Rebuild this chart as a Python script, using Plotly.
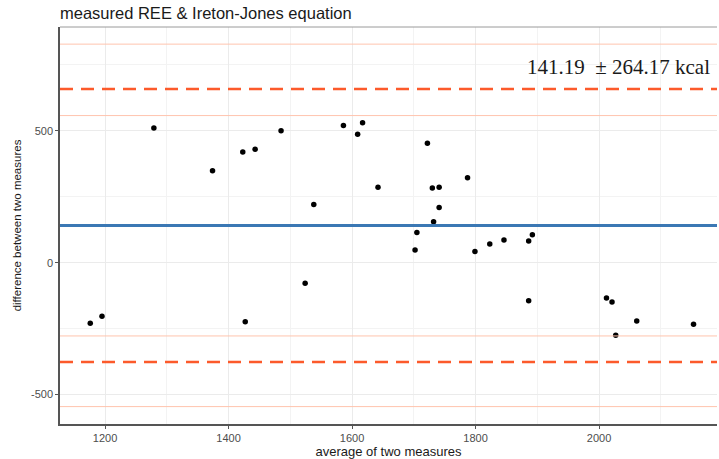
import plotly.graph_objects as go

avg_measures = [1279, 1374, 1423, 1443, 1485, 1538, 1586, 1609, 1617, 1642, 1722, 1730,
                1741, 1787, 1741, 1732, 1705, 1702, 1799, 1823, 1846, 1886, 1892, 1886,
                2012, 2021, 2027, 2061, 2153, 1176, 1195, 1427, 1524]
diff_measures = [511, 349, 420, 430, 500, 221, 520, 487, 531, 286, 453, 283,
                 286, 322, 209, 155, 114, 48, 42, 71, 86, 82, 106, -144,
                 -134, -149, -275, -221, -234, -230, -203, -224, -78]

mean_diff = 141.19
sd_diff = 264.17
loa_upper = mean_diff + 1.96 * sd_diff
loa_lower = mean_diff - 1.96 * sd_diff
ci_lines = [829, 558, -278, -546]

x_ticks = [1200, 1400, 1600, 1800, 2000]
y_ticks = [-500, 0, 500]

fig = go.Figure()

fig.add_trace(go.Scatter(x=avg_measures, y=diff_measures, mode="markers",
                         marker=dict(color="black", size=5.5), showlegend=False))

for v in ci_lines:
    fig.add_hline(y=v, line=dict(color="#ffc4ae", width=1))
for v in [loa_upper, loa_lower]:
    fig.add_hline(y=v, line=dict(color="#fc5a2b", width=2.5, dash="13px,8px"))
fig.add_hline(y=mean_diff, line=dict(color="#3b78b4", width=3))

fig.add_shape(type="line", xref="paper", yref="paper", x0=0, x1=1, y0=1, y1=1,
              line=dict(color="#9a9a9a", width=1))

fig.add_annotation(x=2032, y=742, text=f"{mean_diff:.2f}  \u00b1 {sd_diff:.2f} kcal",
                   showarrow=False, xanchor="center", yanchor="middle",
                   font=dict(family="Liberation Serif", size=21, color="#1a1a1a"))

fig.update_layout(
    width=719, height=459,
    margin=dict(l=60, r=2, t=27, b=35),
    paper_bgcolor="white", plot_bgcolor="white",
    font=dict(family="Liberation Sans", color="#333333"),
    title=dict(text="measured REE & Ireton-Jones equation", x=60/719, xanchor="left",
               y=1 - 13/459, yanchor="middle",
               font=dict(size=16.5, color="#1a1a1a")),
    xaxis=dict(range=[1127, 2191], tickvals=x_ticks, ticktext=[str(t) for t in x_ticks],
               showgrid=True, gridcolor="#ebebeb", gridwidth=1,
               minor=dict(dtick=100, tick0=1100, showgrid=True, gridcolor="#f3f3f3", gridwidth=0.6),
               showline=True, linecolor="#555555", linewidth=1.5,
               ticks="outside", ticklen=3, tickcolor="#555555",
               tickfont=dict(size=11, color="#4d4d4d"), zeroline=False,
               title=dict(text="average of two measures", font=dict(size=13, color="#1a1a1a"), standoff=3)),
    yaxis=dict(range=[-612, 894], tickvals=y_ticks, ticktext=[str(t) for t in y_ticks],
               showgrid=True, gridcolor="#ebebeb", gridwidth=1,
               minor=dict(dtick=250, tick0=-750, showgrid=True, gridcolor="#f3f3f3", gridwidth=0.6),
               showline=True, linecolor="#555555", linewidth=1.5,
               ticks="outside", ticklen=3, tickcolor="#555555",
               tickfont=dict(size=11, color="#4d4d4d"), zeroline=False,
               title=dict(text="difference between two measures", font=dict(size=11.5, color="#1a1a1a"), standoff=7)),
)

fig.write_html("out.html")
